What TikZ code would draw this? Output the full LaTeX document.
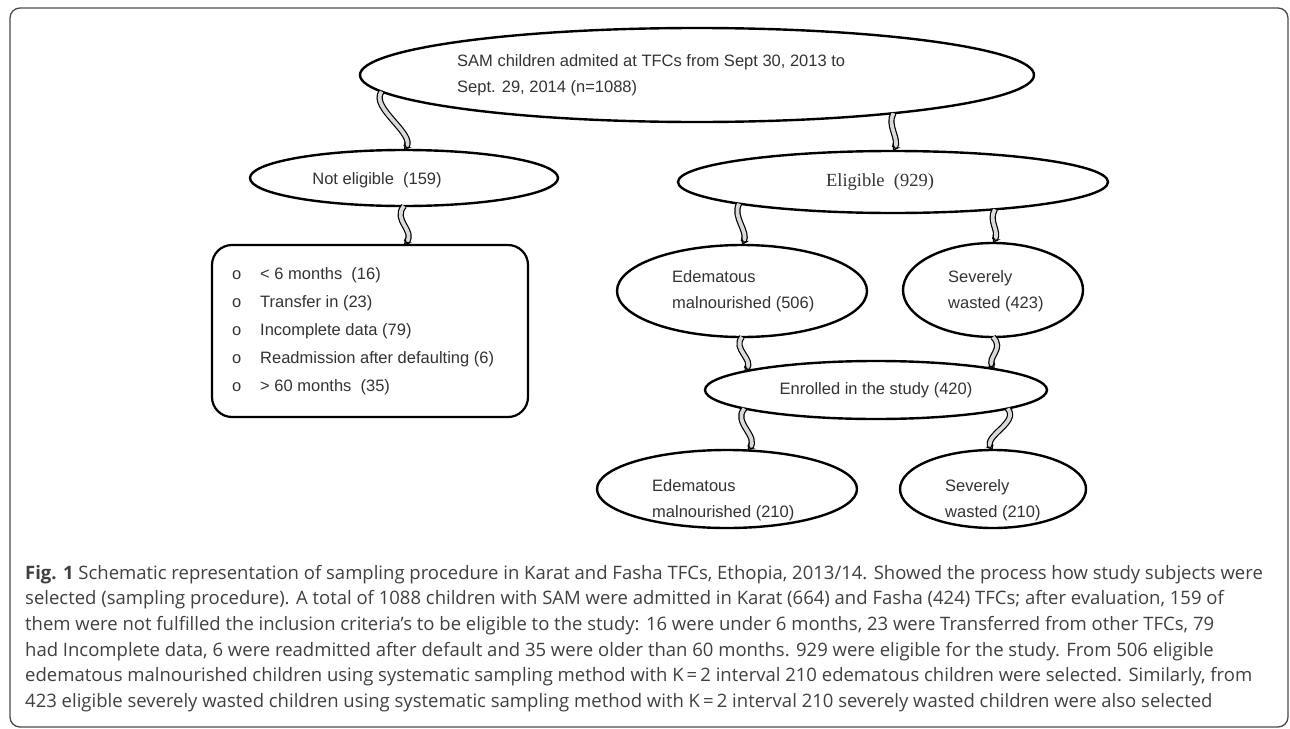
\documentclass[tikz,border=0pt]{standalone}
\usepackage{fontspec}
\setmainfont{Liberation Sans}
\newfontfamily\capfont{Open Sans}
\newfontfamily\timesfont{Liberation Serif}
\usetikzlibrary{shapes.geometric,arrows.meta}
\begin{document}
\begin{tikzpicture}[x=1pt,y=-1pt,
  ell/.style={draw=black, line width=2.4pt, ellipse, inner sep=0pt, outer sep=0pt, fill=white},
  lbl/.style={font=\fontsize{16.5}{26}\selectfont, text=black!80, inner sep=0pt, align=left},
  conn/.style={line width=1.2pt, double=gray!30, double distance=3.8pt,
               -{Stealth[length=7pt,width=9pt,inset=3pt,fill=gray!30]}},
  frame/.style={draw=black!70, line width=1.3pt, rounded corners=10pt}
]
\useasboundingbox[fill=white] (0,0) rectangle (1290,728);
\draw[frame] (10,8) rectangle (1288,727);

% ellipses
\node[ell, minimum width=674pt, minimum height=94pt] (top) at (697,75) {};
\node[ell, minimum width=308pt, minimum height=56pt] (ne) at (404,178) {};
\node[ell, minimum width=430pt, minimum height=62pt] (el) at (893,182) {};
\node[ell, minimum width=250pt, minimum height=92pt] (ed1) at (742,291) {};
\node[ell, minimum width=180pt, minimum height=94pt] (sv1) at (993,290) {};
\node[ell, minimum width=342pt, minimum height=58pt] (en) at (876,390) {};
\node[ell, minimum width=260pt, minimum height=78pt] (ed2) at (727,489) {};
\node[ell, minimum width=186pt, minimum height=78pt] (sv2) at (993,489) {};
\node[draw=black, line width=2.2pt, rounded corners=20pt, minimum width=316pt, minimum height=172pt, anchor=north west, inner sep=0pt, outer sep=0pt] (box) at (212,245) {};

% labels
\node[lbl, anchor=west] (toptxt) at (457,75) {SAM children admited at TFCs from Sept 30, 2013 to\\Sept. 29, 2014 (n=1088)};
\node[lbl] (netxt) at (377,180) {Not eligible \ (159)};
\node[lbl, font=\timesfont\fontsize{18.5}{26}\selectfont] (eltxt) at (880,182) {Eligible \ (929)};
\node[lbl, anchor=west, font=\fontsize{16.5}{28}\selectfont] (bul) at (232,331) {o\\o\\o\\o\\o};
\node[lbl, anchor=west, font=\fontsize{16.5}{28}\selectfont] (boxtxt) at (260,331) {< 6 months \ (16)\\Transfer in (23)\\Incomplete data (79)\\Readmission after defaulting (6)\\> 60 months \ (35)};
\node[lbl, anchor=west] (ed1txt) at (672,291) {Edematous\\malnourished (506)};
\node[lbl, anchor=west] (sv1txt) at (948,291) {Severely\\wasted (423)};
\node[lbl] (entxt) at (876,390) {Enrolled in the study (420)};
\node[lbl, anchor=west] (ed2txt) at (652,500) {Edematous\\malnourished (210)};
\node[lbl, anchor=west] (sv2txt) at (945,500) {Severely\\wasted (210)};

% connectors
\draw[conn] (top.183.3) .. controls +(-12,16) and +(12,-16) .. (ne.north);
\draw[conn] (top.-11) .. controls +(-7,12) and +(7,-12) .. (el.north);
\draw[conn] (ne.south) .. controls +(-12,14) and +(12,-14) .. (box.north -| ne.south);
\draw[conn] (el.188.4) .. controls +(-7,14) and +(7,-14) .. (ed1.north);
\draw[conn] (el.-15.3) .. controls +(-7,12) and +(7,-12) .. (sv1.north);
\draw[conn] (ed1.south) .. controls +(-10,12) and +(10,-12) .. (en.172.3);
\draw[conn] (sv1.south) .. controls +(12,12) and +(-8,-12) .. (en.10.2);
\draw[conn] (en.188.4) .. controls +(-12,14) and +(12,-14) .. (ed2.62.5);
\draw[conn] (en.-8.4) .. controls +(12,14) and +(-10,-14) .. (sv2.north);

% caption
\node[anchor=north west, inner sep=0pt, align=left, text=black!75,
      font=\capfont\fontsize{18.5}{25.6}\selectfont] (cap) at (25,565) {%
\textbf{Fig. 1} Schematic representation of sampling procedure in Karat and Fasha TFCs, Ethopia, 2013/14. Showed the process how study subjects were\\
selected (sampling procedure). A total of 1088 children with SAM were admitted in Karat (664) and Fasha (424) TFCs; after evaluation, 159 of\\
them were not fulfilled the inclusion criteria’s to be eligible to the study: 16 were under 6 months, 23 were Transferred from other TFCs, 79\\
had Incomplete data, 6 were readmitted after default and 35 were older than 60 months. 929 were eligible for the study. From 506 eligible\\
edematous malnourished children using systematic sampling method with K\,=\,2 interval 210 edematous children were selected. Similarly, from\\
423 eligible severely wasted children using systematic sampling method with K\,=\,2 interval 210 severely wasted children were also selected};
\end{tikzpicture}
\end{document}
